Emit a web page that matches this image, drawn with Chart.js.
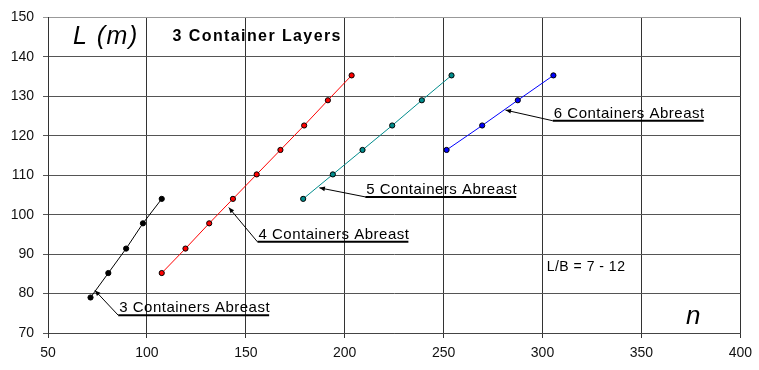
<!DOCTYPE html>
<html>
<head>
<meta charset="utf-8">
<script src="https://cdn.jsdelivr.net/npm/chart.js@4/dist/chart.umd.min.js"></script>
<style>
  html, body { margin: 0; padding: 0; background: #fff; }
  #wrap { width: 759px; height: 370px; }
</style>
</head>
<body>
<div id="wrap"><canvas id="chart-1"></canvas></div>
<script>
/************************ data *********************************/

// number of containers n vs. ship length L (m), 3 layers
const nThree = [71.5, 80.5, 89.5, 98, 107.5];
const lThree = [79, 85.2, 91.4, 97.8, 104];

const nFour = [107.5, 119.5, 131.5, 143.5, 155.5, 167.5, 179.5, 191.5, 203.5];
const lFour = [85.2, 91.4, 97.8, 104, 110.2, 116.4, 122.6, 129, 135.3];

const nFive = [179, 194, 209, 224, 239, 254];
const lFive = [104, 110.2, 116.4, 122.6, 129, 135.3];

const nSix = [251.5, 269.5, 287.5, 305.5];
const lSix = [116.4, 122.6, 129, 135.3];

const seriesNames = ["3 Containers Abreast", "4 Containers Abreast", "5 Containers Abreast", "6 Containers Abreast"];
const seriesColors = ["#000000", "#ff0000", "#008c8c", "#0000ff"];

const xTicks = [50, 100, 150, 200, 250, 300, 350, 400];
const yTicks = [70, 80, 90, 100, 110, 120, 130, 140, 150];

const FONT = "'Liberation Sans', Arial, sans-serif";

function pts(xs, ys) {
  return xs.map((x, i) => ({ x: x, y: ys[i] }));
}

/************************ callouts (data coords) *********************************/
// tip = where the arrow points, at = start of the underline
const callouts = [
  { text: seriesNames[0], tip: [73.7, 80.8], at: [85.5, 74.5] },
  { text: seriesNames[1], tip: [141.4, 101.8], at: [155.9, 93.1] },
  { text: seriesNames[2], tip: [187.2, 106.8], at: [210.4, 104.5] },
  { text: seriesNames[3], tip: [281.3, 126.5], at: [305.2, 123.8] },
];

const labels = [
  { text: "L (m)", at: [62.6, 145], font: "italic 25px " + FONT, spacing: "1.5px" },
  { text: "3 Container Layers", at: [113, 145.2], font: "bold 16px " + FONT, spacing: "1.4px" },
  { text: "L/B = 7 - 12", at: [302.1, 86.6], font: "14px " + FONT, spacing: "0.5px" },
  { text: "n", at: [372.6, 74], font: "italic 26px " + FONT, spacing: "0px" },
];

const annotate = {
  id: "annotate",
  afterDatasetsDraw(chart) {
    const c = chart.ctx;
    const xs = chart.scales.x, ys = chart.scales.y;
    c.save();
    c.fillStyle = "#000";
    c.strokeStyle = "#000";
    c.textBaseline = "middle";
    c.textAlign = "left";
    labels.forEach((l) => {
      c.font = l.font;
      c.letterSpacing = l.spacing;
      c.fillText(l.text, xs.getPixelForValue(l.at[0]), ys.getPixelForValue(l.at[1]));
    });

    c.font = "15px " + FONT;
    c.letterSpacing = "0.5px";
    c.textBaseline = "alphabetic";
    callouts.forEach((o) => {
      const tx = xs.getPixelForValue(o.tip[0]), ty = ys.getPixelForValue(o.tip[1]);
      const ax = xs.getPixelForValue(o.at[0]), ay = ys.getPixelForValue(o.at[1]);
      const w = c.measureText(o.text).width;
      // leader
      c.lineWidth = 1;
      c.beginPath();
      c.moveTo(ax, ay);
      c.lineTo(tx, ty);
      c.stroke();
      // arrow head
      const ang = Math.atan2(ty - ay, tx - ax);
      c.beginPath();
      c.moveTo(tx, ty);
      c.lineTo(tx - 6 * Math.cos(ang - 0.4), ty - 6 * Math.sin(ang - 0.4));
      c.lineTo(tx - 6 * Math.cos(ang + 0.4), ty - 6 * Math.sin(ang + 0.4));
      c.closePath();
      c.fill();
      // underline + text
      c.lineWidth = 2;
      c.beginPath();
      c.moveTo(ax, ay);
      c.lineTo(ax + w, ay);
      c.stroke();
      c.fillText(o.text, ax + 1, ay - 3);
    });
    c.restore();
  },
};

/************************* chart ******************************/

const allN = [nThree, nFour, nFive, nSix];
const allL = [lThree, lFour, lFive, lSix];

const ctx1 = document.getElementById("chart-1").getContext("2d");
const myChart1 = new Chart(ctx1, {
  type: "scatter",
  data: {
    datasets: allN.map((ns, i) => ({
      label: seriesNames[i],
      data: pts(ns, allL[i]),
      showLine: true,
      borderColor: seriesColors[i],
      backgroundColor: seriesColors[i],
      borderWidth: 1,
      pointRadius: 2.6,
      pointBorderColor: "#000",
      pointBackgroundColor: seriesColors[i],
      pointBorderWidth: 1,
    })),
  },
  options: {
    responsive: true,
    maintainAspectRatio: false,
    animation: false,
    layout: {
      padding: { left: 0, top: 15, right: 13, bottom: 0 },
    },
    plugins: {
      legend: { display: false },
      tooltip: { enabled: false },
    },
    scales: {
      x: {
        type: "linear",
        min: 50,
        max: 400,
        afterBuildTicks: (s) => { s.ticks = xTicks.map((v) => ({ value: v })); },
        afterFit: (s) => { s.height = 37; },
        grid: { color: "#333", lineWidth: 1, tickLength: 5 },
        border: { color: "#444", width: 1 },
        ticks: { color: "#111", padding: 7, font: { family: FONT, size: 14 } },
      },
      y: {
        type: "linear",
        min: 70,
        max: 150,
        afterBuildTicks: (s) => { s.ticks = yTicks.map((v) => ({ value: v })); },
        afterFit: (s) => { s.width = 48; },
        grid: {
          color: (c) => (c.tick && c.tick.value === 150 ? "#999" : "#555"),
          lineWidth: 1,
          tickLength: 5,
        },
        border: { color: "#333", width: 1 },
        ticks: { color: "#111", padding: 9, font: { family: FONT, size: 14 } },
      },
    },
  },
  plugins: [annotate],
});
</script>
</body>
</html>
